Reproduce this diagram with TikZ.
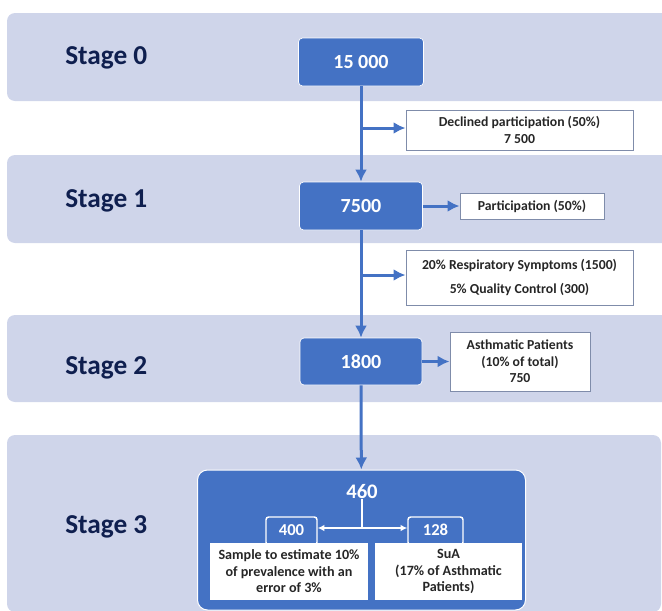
\documentclass[tikz,border=0pt]{standalone}
\usepackage{fontspec}
\setmainfont{Carlito}
\usetikzlibrary{arrows.meta,positioning}

\definecolor{bandfill}{HTML}{CFD5EA}
\definecolor{boxblue}{HTML}{4472C4}
\definecolor{stagetext}{HTML}{0F1F4F}
\definecolor{boxline}{HTML}{7F8CAA}
\definecolor{notetext}{HTML}{262626}

\begin{document}
\begin{tikzpicture}[x=0.75pt,y=-0.75pt,
        band/.style={fill=bandfill,rounded corners=6pt},
        stagelabel/.style={anchor=west,inner sep=0pt,text=stagetext,
            font=\fontsize{20.5}{23}\selectfont\bfseries},
        count/.style={fill=boxblue,draw=white,line width=0.5pt,rounded corners=3pt,
            text=white,inner sep=0pt,font=\fontsize{15}{18}\selectfont\bfseries},
        note/.style={fill=white,draw=boxline,line width=0.75pt,text=notetext,
            align=center,inner sep=0pt,font=\fontsize{10.3}{12.5}\selectfont\bfseries},
        flow/.style={draw=boxblue,line width=2.25pt,-{Latex[length=9pt,width=9pt]}},
        splitarrow/.style={draw=white,line width=1.2pt,-{Latex[length=5pt,width=5pt]}}]

        \useasboundingbox (0,0) rectangle (662,611);
        \clip (0,0) rectangle (662,611);

        \fill [band] (7,13) rectangle (690,101);
        \fill [band] (7,155) rectangle (690,243);
        \fill [band] (7,315) rectangle (690,402);
        \fill [band] (7,435) rectangle (661,612);

        \node [stagelabel] (s0) at (65,58) {Stage 0};
        \node [stagelabel] (s1) at (65,201) {Stage 1};
        \node [stagelabel] (s2) at (65,368) {Stage 2};
        \node [stagelabel] (s3) at (65,527) {Stage 3};

        \node [count,minimum width=93.75pt,minimum height=36pt] (n0) at (361,62) {15 000};
        \node [count,minimum width=92.25pt,minimum height=36pt] (n1) at (361,206) {7500};
        \node [count,minimum width=91.5pt,minimum height=35.25pt] (n2) at (361,361.5) {1800};

        \node [note,minimum width=170.25pt,minimum height=30pt] (decl) at (519.5,130)
            {Declined participation (50\%)\\7 500};
        \node [note,minimum width=108pt,minimum height=19.5pt] (part) at (532,206)
            {Participation (50\%)};
        \node [note,minimum width=170.25pt,minimum height=41.25pt] (resp) at (519.5,277.5)
            {20\% Respiratory Symptoms (1500)\\[6pt]5\% Quality Control (300)};
        \node [note,minimum width=105pt,minimum height=44.25pt] (asth) at (520,361.5)
            {Asthmatic Patients\\(10\% of total)\\750};

        \node [count,rounded corners=7.5pt,line width=0.75pt,minimum width=246pt,
            minimum height=105pt] (big) at (361.5,540) {};
        \node [text=white,font=\fontsize{15.5}{18}\selectfont\bfseries,inner sep=0pt] (n460) at (362,492) {460};

        \node [count,rounded corners=2pt,line width=1.1pt,minimum width=38.25pt,minimum height=21pt] (b400) at (291.5,531) {};
        \node [count,rounded corners=2pt,line width=1.1pt,minimum width=41.25pt,minimum height=21pt] (b128) at (435.5,531) {};
        \node [note,draw=none,minimum width=118.5pt,minimum height=42.75pt,
            font=\fontsize{10.6}{12.4}\selectfont\bfseries] (sample) at (289,571.5)
            {Sample to estimate 10\%\\of prevalence with an\\error of 3\%};
        \node [note,draw=none,minimum width=110.25pt,minimum height=42.75pt,
            font=\fontsize{10.6}{12.4}\selectfont\bfseries] (sua) at (448.5,571.5)
            {SuA\\(17\% of Asthmatic\\Patients)};
        \node [text=white,font=\fontsize{12.5}{14}\selectfont\bfseries,inner sep=0pt] (t400) at (291.5,530) {400};
        \node [text=white,font=\fontsize{12.5}{14}\selectfont\bfseries,inner sep=0pt] (t128) at (435.5,530) {128};

        \coordinate (d0) at (361,128);
        \coordinate (d1) at (361,275);
        \coordinate (split) at (362,528);

        \draw [flow] (n0) -- (n1);
        \draw [flow] (n1) -- (n2);
        \draw [flow] (n2) -- (big);
        \draw [flow] (d0) -- (d0 -| decl.west);
        \draw [flow] (d1) -- (d1 -| resp.west);
        \draw [flow] (n1) -- (part);
        \draw [flow] (n2) -- (asth);

        \draw [white,line width=1.2pt] (n460) -- (split);
        \draw [splitarrow] (split) -- (split -| b400.east);
        \draw [splitarrow] (split) -- (split -| b128.west);

    \end{tikzpicture}
\end{document}
